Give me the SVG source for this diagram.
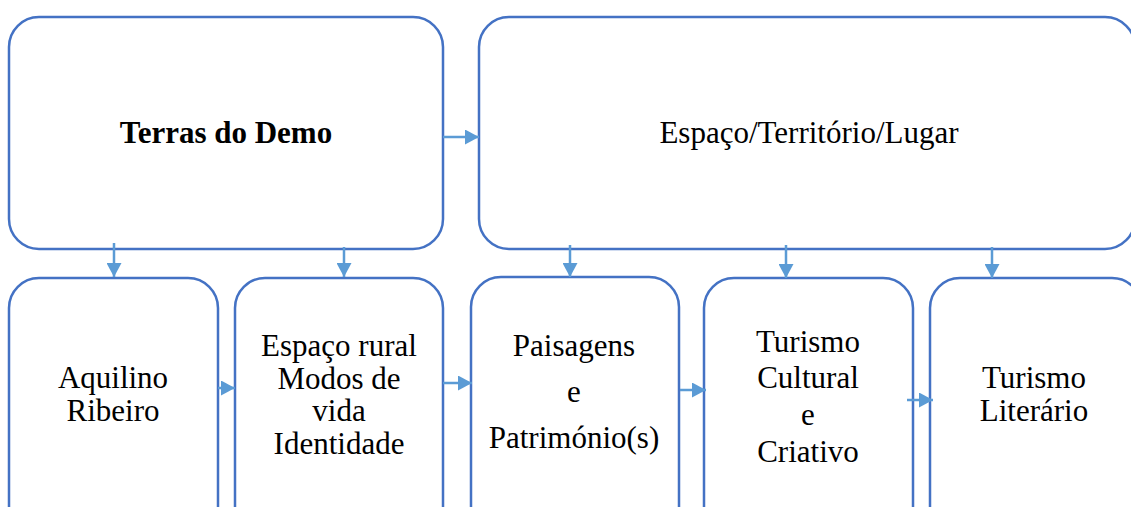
<svg xmlns="http://www.w3.org/2000/svg" width="1131" height="507" viewBox="0 0 1131 507">
<style>
.box{fill:#fff;stroke:#4472C4;stroke-width:2.5}
.t{font-family:"Liberation Serif","Times New Roman",serif;font-size:31px;fill:#000;text-anchor:middle}
.b{font-weight:bold}
.c{stroke:#5B9BD5;stroke-width:2.5;fill:none;marker-end:url(#ah)}
</style>
<defs>
<marker id="ah" markerUnits="userSpaceOnUse" markerWidth="15" markerHeight="15" refX="14" refY="7.5" orient="auto">
<path d="M0,0 L14,7.5 L0,15 z" fill="#5B9BD5"/>
</marker>
</defs>
<rect width="1131" height="507" fill="#fff"/>
<g id="n-terras"><rect class="box" x="9" y="17" width="434" height="232" rx="30"/><text class="t b" x="226" y="143">Terras do Demo</text></g>
<g id="n-espaco"><rect class="box" x="479" y="17" width="656" height="232" rx="30"/><text class="t" x="809" y="143">Espaço/Território/Lugar</text></g>
<g id="n-aquilino"><rect class="box" x="9" y="278" width="209" height="260" rx="30"/><text class="t" x="113" y="388">Aquilino</text><text class="t" x="113" y="421">Ribeiro</text></g>
<g id="n-rural"><rect class="box" x="235" y="278" width="208" height="260" rx="30"/><text class="t" x="339" y="356">Espaço rural</text><text class="t" x="339" y="389">Modos de</text><text class="t" x="339" y="421">vida</text><text class="t" x="339" y="454">Identidade</text></g>
<g id="n-paisagens"><rect class="box" x="471" y="277" width="208" height="260" rx="30"/><text class="t" x="574" y="356">Paisagens</text><text class="t" x="574" y="402">e</text><text class="t" x="574" y="448">Património(s)</text></g>
<g id="n-cultural"><rect class="box" x="704" y="278" width="209" height="260" rx="30"/><text class="t" x="808" y="352">Turismo</text><text class="t" x="808" y="388">Cultural</text><text class="t" x="808" y="425">e</text><text class="t" x="808" y="462">Criativo</text></g>
<g id="n-literario"><rect class="box" x="930" y="278" width="212" height="260" rx="30"/><text class="t" x="1034" y="388">Turismo</text><text class="t" x="1034" y="421">Literário</text></g>
<g id="connectors">
<line class="c" x1="443" y1="137" x2="479" y2="137"/>
<line class="c" x1="114" y1="243" x2="114" y2="277"/>
<line class="c" x1="344" y1="247" x2="344" y2="277"/>
<line class="c" x1="570" y1="245" x2="570" y2="277"/>
<line class="c" x1="786" y1="245" x2="786" y2="278"/>
<line class="c" x1="992" y1="247" x2="992" y2="278"/>
<line class="c" x1="218" y1="388" x2="235" y2="388"/>
<line class="c" x1="443" y1="383" x2="472" y2="383"/>
<line class="c" x1="680" y1="390" x2="706" y2="390"/>
<line class="c" x1="907" y1="400" x2="933" y2="400"/>
</g>
</svg>
